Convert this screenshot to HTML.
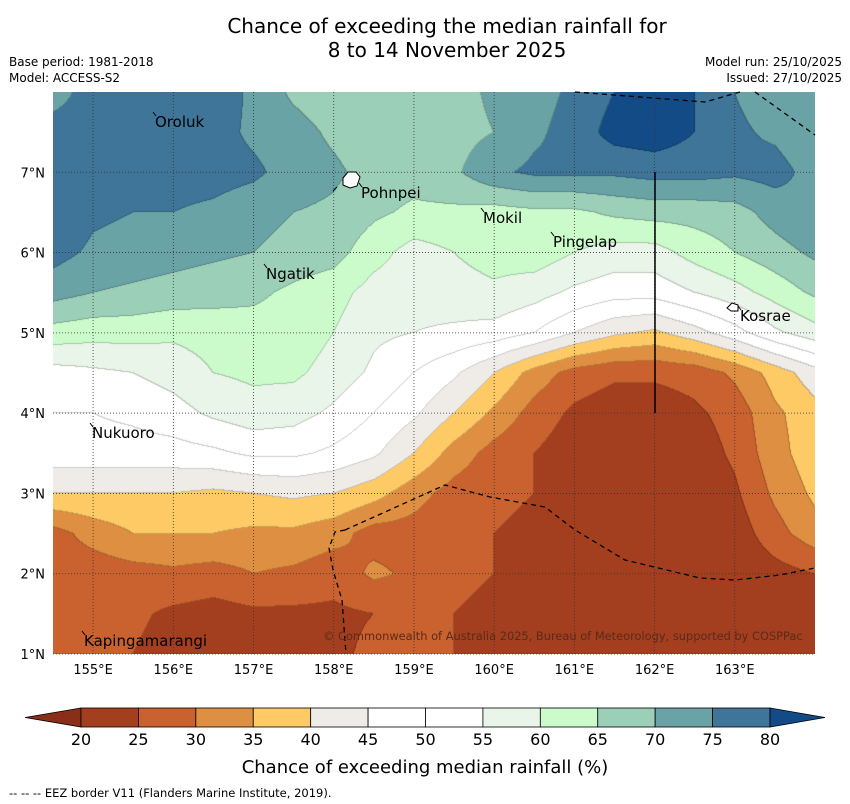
<!DOCTYPE html>
<html><head><meta charset="utf-8">
<style>
body{margin:0;background:#fff;width:850px;height:804px;overflow:hidden;font-family:"DejaVu Sans",sans-serif;}
#wrap{position:relative;width:850px;height:804px;}
canvas{position:absolute;left:53px;top:92px;}
svg{position:absolute;left:0;top:0;}
</style></head><body>
<div id="wrap">
<canvas id="map" width="762" height="562"></canvas>
<svg id="ov" width="850" height="804"></svg>
</div>
<script>
const lons=[154.5,155,155.5,156,156.5,157,157.5,158,158.5,159,159.5,160,160.5,161,161.5,162,162.5,163,163.5,164];
const lats=[8,7.5,7,6.5,6,5.5,5,4.5,4,3.5,3,2.5,2,1.5,1];
const r80=[73,77,78,79,78,74,69,67,67,67,68,71,73,76,80,82,80,75,72,71];
const r75=[77,77,78,80,77,74,72,69,67,67,68,70,74,77,82,83,80,76,74,71];
const r70=[77,77,77,77,77,76,73,71,68,67,69,74,76,76,76,77,77,76,77,73];
const r65=[80,76,75,75,74,72,70,69,66,64,64,63,64,64,66,67,67,68,72,75];
const r60=[77,74,73,72,71,70,68,67,62,58,60,62,63,60,58,58,62,65,68,71];
const r55=[72,70,69,68,67,66,64,62,58,57,58,59,57,54,52,52,55,58,62,66];
const r50=[63,62,62,61,62,63,63,60,56,55,54,53,50,45,41,39,43,48,54,58];
const r45=[53,54,55,57,60,61,61,58,54,50,46,40,33,28,26,26,27,31,37,43];
const r40=[50,50,51,53,56,58,57,54,50,46,40,34,28,24,22,22,24,27,34,38];
const r35=[48,48,48,48,49,51,51,49,46,40,33,28,25,22,21,21,22,26,33,38];
const r30=[40,40,40,40,39,40,41,40,37,32,28,26,25,23,21,21,21,24,31,36];
const r25=[28,32,35,35,35,34,34,32,28,28,26,25,24,22,21,21,21,22,28,33];
const r20=[27,27,28,29,28,30,29,27,31,29,26,25,23,22,21,21,21,21,23,25];
const r15=[26,26,26,24,23,24,24,24,25,26,25,24,22,21,21,21,21,21,23,24];
const r10=[26,26,25,23,22,22,23,24,26,26,25,24,22,21,21,21,21,21,22,23];
const grid=[r80,r75,r70,r65,r60,r55,r50,r45,r40,r35,r30,r25,r20,r15,r10];
const levels=[20,25,30,35,40,45,50,55,60,65,70,75,80];
const colors=["#8a2e17","#a33f1f","#c9622f","#df8f42","#fdca66","#efebe7","#ffffff","#ffffff","#eaf5e9","#cbfbcb","#9ccfb7","#6aa3a6","#3e7598","#134b86"];
const tickLons=[155,156,157,158,159,160,161,162,163];
const tickLats=[1,2,3,4,5,6,7];

const W=762,H=562,lon0=154.5,lon1=164,lat0=8,lat1=1;
const xOf=lon=>53+(lon-lon0)/(lon1-lon0)*W;
const yOf=lat=>92+(lat0-lat)/(lat0-lat1)*H;
function val(lon,lat){
  let c=(lon-lons[0])/0.5, r=(lats[0]-lat)/0.5;
  c=Math.max(0,Math.min(lons.length-1.0001,c)); r=Math.max(0,Math.min(lats.length-1.0001,r));
  const c0=Math.floor(c),r0=Math.floor(r),fc=c-c0,fr=r-r0;
  const a=grid[r0][c0],b=grid[r0][c0+1],d=grid[r0+1][c0],e=grid[r0+1][c0+1];
  return a*(1-fc)*(1-fr)+b*fc*(1-fr)+d*(1-fc)*fr+e*fc*fr;
}
function band(v){let i=0;while(i<levels.length&&v>=levels[i])i++;return i;}
function hex(h){return [parseInt(h.substr(1,2),16),parseInt(h.substr(3,2),16),parseInt(h.substr(5,2),16)];}
const rgb=colors.map(hex);
const cv=document.getElementById('map'),ctx=cv.getContext('2d');
const img=ctx.createImageData(W,H);
const B=new Uint8Array(W*H);
for(let y=0;y<H;y++)for(let x=0;x<W;x++){
  const lon=lon0+(x+0.5)/W*(lon1-lon0), lat=lat0-(y+0.5)/H*(lat0-lat1);
  B[y*W+x]=band(val(lon,lat));
}
for(let y=0;y<H;y++)for(let x=0;x<W;x++){
  const i=y*W+x,b=B[i];let c=rgb[b];
  const edge=(x<W-1&&B[i+1]!==b)||(y<H-1&&B[i+W]!==b);
  const k=(i*4);
  if(edge){img.data[k]=c[0]*0.8;img.data[k+1]=c[1]*0.8;img.data[k+2]=c[2]*0.8;}
  else{img.data[k]=c[0];img.data[k+1]=c[1];img.data[k+2]=c[2];}
  img.data[k+3]=255;
}
ctx.putImageData(img,0,0);

const NS='http://www.w3.org/2000/svg';
const ov=document.getElementById('ov');
function mk(tag,attrs,parent){const e=document.createElementNS(NS,tag);for(const k in attrs)e.setAttribute(k,attrs[k]);(parent||ov).appendChild(e);return e;}
function txt(x,y,s,size,anchor,name,extra){const t=mk('text',Object.assign({x:x,y:y,'font-size':size,'text-anchor':anchor||'start','font-family':'DejaVu Sans, sans-serif',fill:'#000'},extra||{}));t.textContent=s;

return t;}

tickLons.forEach(l=>{const ln=mk('line',{x1:xOf(l),x2:xOf(l),y1:92,y2:654,stroke:'#333','stroke-width':0.8,'stroke-dasharray':'1,2'});


 txt(xOf(l),674,l+'°E',13,'middle','x-tick-label');});
tickLats.forEach(l=>{const ln=mk('line',{x1:53,x2:815,y1:yOf(l),y2:yOf(l),stroke:'#333','stroke-width':0.8,'stroke-dasharray':'1,2'});


 txt(45,yOf(l)+5,l+'°N',13,'end','y-tick-label');});

const eez=[["M575,92 L705,102 L740,92"],["M755,92 L815,135"],["M345,530 L445,485 L490,497 L545,507 L575,530 L625,560 L700,578 L735,580 L780,575 L815,568"],["M345,530 L335,532 L329,548 L333,570 L342,600 L346,654"]];
eez.forEach(p=>{const e=mk('path',{d:p[0],fill:'none',stroke:'#000','stroke-width':1.3,'stroke-dasharray':'5,4'});

});
const vl=mk('line',{x1:655,x2:655,y1:172,y2:413,stroke:'#000','stroke-width':1.5});


const isl1=mk('path',{d:'M343,178 L348,172 L356,172 L360,177 L357,186 L350,188 L343,185 Z',fill:'#fff',stroke:'#000','stroke-width':1});


const isl2=mk('path',{d:'M727,308 L732,303 L738,305 L738,311 L731,311 Z',fill:'#fff',stroke:'#000','stroke-width':1});


mk('line',{x1:333,y1:191,x2:337,y2:187,stroke:'#000'});
[["Oroluk",155,127],["Pohnpei",361,198],["Mokil",483,223],["Pingelap",553,247],["Ngatik",266,279],["Kosrae",740,321],["Nukuoro",92,438],["Kapingamarangi",84,646]].forEach(p=>{
 txt(p[1],p[2],p[0],15,'start','place-label');
 mk('line',{x1:p[1]-2,y1:p[2]-15,x2:p[1]+1,y2:p[2]-11,stroke:'#000','stroke-width':1});
});
txt(323,640,'© Commonwealth of Australia 2025, Bureau of Meteorology, supported by COSPPac',11.4,'start','copyright',{fill:'#5a2a1a'});

txt(447,33,'Chance of exceeding the median rainfall for',20,'middle','chart-title');
txt(447,57,'8 to 14 November 2025',20,'middle','chart-subtitle');
txt(9,66,'Base period: 1981-2018',12,'start','base-period');
txt(9,82,'Model: ACCESS-S2',12,'start','model-name');
txt(842,66,'Model run: 25/10/2025',12,'end','model-run');
txt(842,82,'Issued: 27/10/2025',12,'end','issued-date');

const cbL=81,cbR=770,cbY=708,cbH=19,seg=(cbR-cbL)/12;
const lt=mk('path',{d:`M${cbL},${cbY} L25,${cbY+cbH/2} L${cbL},${cbY+cbH} Z`,fill:colors[0],stroke:'#000','stroke-width':0.8});


for(let i=0;i<12;i++){const r=mk('rect',{x:cbL+i*seg,y:cbY,width:seg,height:cbH,fill:colors[i+1],stroke:'#000','stroke-width':0.8});

}
const rt=mk('path',{d:`M${cbR},${cbY} L825,${cbY+cbH/2} L${cbR},${cbY+cbH} Z`,fill:colors[13],stroke:'#000','stroke-width':0.8});


levels.forEach((l,i)=>txt(cbL+i*seg,745,String(l),16,'middle','colorbar-tick-label'));
txt(425,773,'Chance of exceeding median rainfall (%)',18,'middle','colorbar-title');
txt(9,797,'--  --  -- EEZ border V11 (Flanders Marine Institute, 2019).',11.5,'start','eez-legend');
</script>
</body></html>
